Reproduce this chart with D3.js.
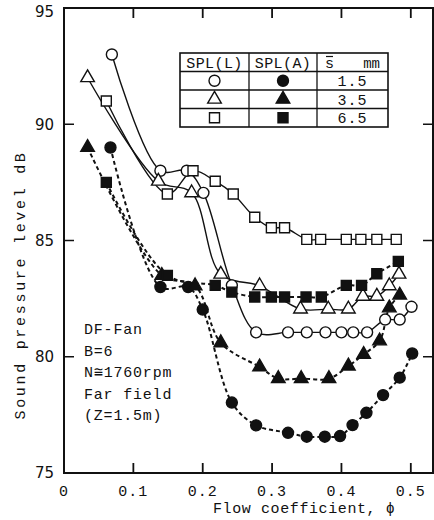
<!DOCTYPE html>
<html>
<head>
<meta charset="utf-8">
<script src="https://cdn.jsdelivr.net/npm/d3@7/dist/d3.min.js"></script>
<style>
  body { margin: 0; background: #fff; }
  text { fill: #111; }
</style>
</head>
<body>
<div id="chart-area"></div>
<script>
// data
const phiL15 = [0.069, 0.139, 0.177, 0.201, 0.242, 0.277, 0.323, 0.350, 0.377, 0.400, 0.417, 0.437, 0.463, 0.484, 0.501]
const splL15 = [93.0, 88.0, 88.0, 87.05, 83.07, 81.05, 81.05, 81.05, 81.05, 81.05, 81.05, 81.05, 81.6, 81.6, 82.15]

const phiL35 = [0.034, 0.136, 0.184, 0.226, 0.282, 0.341, 0.381, 0.410, 0.431, 0.451, 0.469, 0.483]
const splL35 = [92.0, 87.55, 87.05, 83.55, 83.05, 82.05, 82.05, 82.05, 82.6, 82.6, 83.05, 83.55]

const phiL65 = [0.061, 0.149, 0.186, 0.218, 0.244, 0.275, 0.299, 0.318, 0.350, 0.370, 0.407, 0.428, 0.451, 0.479]
const splL65 = [91.0, 87.0, 88.0, 87.55, 87.0, 86.0, 85.55, 85.55, 85.05, 85.05, 85.05, 85.05, 85.05, 85.05]

const phiA15 = [0.067, 0.139, 0.179, 0.200, 0.242, 0.277, 0.323, 0.350, 0.376, 0.398, 0.416, 0.436, 0.460, 0.484, 0.502]
const splA15 = [89.0, 83.0, 83.0, 82.03, 78.03, 77.05, 76.73, 76.56, 76.56, 76.59, 77.06, 77.59, 78.35, 79.1, 80.14]

const phiA35 = [0.034, 0.141, 0.189, 0.226, 0.282, 0.309, 0.342, 0.382, 0.410, 0.432, 0.455, 0.469, 0.484]
const splA35 = [89.0, 83.5, 83.05, 80.6, 79.56, 79.06, 79.06, 79.06, 79.6, 80.1, 80.68, 82.1, 82.65]

const phiA65 = [0.061, 0.149, 0.218, 0.242, 0.275, 0.299, 0.318, 0.349, 0.371, 0.407, 0.429, 0.451, 0.482]
const splA65 = [87.5, 83.5, 83.07, 82.78, 82.57, 82.57, 82.57, 82.57, 82.57, 83.07, 83.07, 83.57, 84.1]

const xTicks = [0.1, 0.2, 0.3, 0.4, 0.5]
const yTicks = [75, 80, 85, 90, 95]
const gapLabels = ["1.5", "3.5", "6.5"]
const noteLines = ["DF-Fan", "B=6", "N≅1760rpm", "Far field", "(Z=1.5m)"]

const series = [
  { phi: phiL15, spl: splL15, shape: "circle", filled: false, dashed: false },
  { phi: phiL35, spl: splL35, shape: "triangle", filled: false, dashed: false },
  { phi: phiL65, spl: splL65, shape: "square", filled: false, dashed: false },
  { phi: phiA15, spl: splA15, shape: "circle", filled: true, dashed: true },
  { phi: phiA35, spl: splA35, shape: "triangle", filled: true, dashed: true },
  { phi: phiA65, spl: splA65, shape: "square", filled: true, dashed: true }
]

const MARGIN = { LEFT: 64, RIGHT: 1, TOP: 8, BOTTOM: 47 }
const WIDTH = 434 - MARGIN.LEFT - MARGIN.RIGHT
const HEIGHT = 520 - MARGIN.TOP - MARGIN.BOTTOM
const MONO = "'Liberation Mono', 'DejaVu Sans Mono', monospace"

const svg = d3.select("#chart-area").append("svg")
  .attr("width", 434)
  .attr("height", 520)

const g = svg.append("g")
  .attr("transform", `translate(${MARGIN.LEFT}, ${MARGIN.TOP})`)

const x = d3.scaleLinear().domain([0, 0.532]).range([0, WIDTH])
const y = d3.scaleLinear().domain([75, 95]).range([HEIGHT, 0])

// frame
g.append("rect")
  .attr("width", WIDTH)
  .attr("height", HEIGHT)
  .attr("fill", "none")
  .attr("stroke", "#111")
  .attr("stroke-width", 2)

// inward ticks on all four sides
const tickLen = 10
g.selectAll(".xt-b").data(xTicks).join("line")
  .attr("x1", d => x(d)).attr("x2", d => x(d))
  .attr("y1", HEIGHT).attr("y2", HEIGHT - tickLen)
  .attr("stroke", "#111").attr("stroke-width", 1.8)
g.selectAll(".xt-t").data(xTicks).join("line")
  .attr("x1", d => x(d)).attr("x2", d => x(d))
  .attr("y1", 0).attr("y2", tickLen)
  .attr("stroke", "#111").attr("stroke-width", 1.8)
g.selectAll(".yt-l").data(yTicks.slice(1, -1)).join("line")
  .attr("x1", 0).attr("x2", tickLen)
  .attr("y1", d => y(d)).attr("y2", d => y(d))
  .attr("stroke", "#111").attr("stroke-width", 1.5)
g.selectAll(".yt-r").data(yTicks.slice(1, -1)).join("line")
  .attr("x1", WIDTH).attr("x2", WIDTH - tickLen)
  .attr("y1", d => y(d)).attr("y2", d => y(d))
  .attr("stroke", "#111").attr("stroke-width", 1.5)

// tick labels
g.selectAll(".xl").data([0].concat(xTicks)).join("text")
  .attr("x", d => x(d))
  .attr("y", HEIGHT + 23)
  .attr("text-anchor", "middle")
  .attr("font-family", MONO)
  .attr("font-size", 15)
  .attr("letter-spacing", 1)
  .text(d => d === 0 ? "0" : d3.format(".1f")(d))

g.selectAll(".yl").data(yTicks).join("text")
  .attr("x", -10)
  .attr("y", d => Math.max(y(d), 4))
  .attr("dy", "0.35em")
  .attr("text-anchor", "end")
  .attr("font-family", "'DejaVu Sans', sans-serif")
  .attr("font-size", 15)
  .text(d => d)

// axis titles
svg.append("text")
  .attr("transform", "translate(25, 285) rotate(-90)")
  .attr("text-anchor", "middle")
  .attr("font-family", MONO)
  .attr("font-size", 15)
  .attr("letter-spacing", 2.7)
  .text("Sound pressure level  dB")

svg.append("text")
  .attr("x", 213)
  .attr("y", 513)
  .attr("font-family", MONO)
  .attr("font-size", 15)
  .attr("letter-spacing", 0.6)
  .text("Flow coefficient, ϕ")

// curves
const line = d3.line()
  .x(d => x(d[0]))
  .y(d => y(d[1]))
  .curve(d3.curveCatmullRom.alpha(0.5))

series.forEach(s => {
  const pts = s.phi.map((p, i) => [p, s.spl[i]])
  g.append("path")
    .attr("d", line(pts))
    .attr("fill", "none")
    .attr("stroke", "#111")
    .attr("stroke-width", s.dashed ? 2 : 1.4)
    .attr("stroke-dasharray", s.dashed ? "4,3" : null)
})

// markers
const symSize = { circle: 95, triangle: 80, square: 100 }
const symType = { circle: d3.symbolCircle, triangle: d3.symbolTriangle, square: d3.symbolSquare }

function drawMarker(sel, shape, filled) {
  sel.append("path")
    .attr("d", d3.symbol().type(symType[shape]).size(symSize[shape])())
    .attr("fill", filled ? "#111" : "#fff")
    .attr("stroke", "#111")
    .attr("stroke-width", 1.4)
}

series.forEach(s => {
  s.phi.forEach((p, i) => {
    const m = g.append("g").attr("transform", `translate(${x(p)}, ${y(s.spl[i])})`)
    drawMarker(m, s.shape, s.filled)
  })
})

// legend table
const TB = { X: 180, Y: 53, W: 208, ROW: 18.5, C1: 249, C2: 317 }
const tbl = svg.append("g")
tbl.append("rect")
  .attr("x", TB.X).attr("y", TB.Y)
  .attr("width", TB.W).attr("height", TB.ROW * 4)
  .attr("fill", "#fff").attr("stroke", "#111").attr("stroke-width", 1.6)
d3.range(1, 4).forEach(r => {
  tbl.append("line")
    .attr("x1", TB.X).attr("x2", TB.X + TB.W)
    .attr("y1", TB.Y + r * TB.ROW).attr("y2", TB.Y + r * TB.ROW)
    .attr("stroke", "#111").attr("stroke-width", 1.3)
})
;[TB.C1, TB.C2].forEach(cx => {
  tbl.append("line")
    .attr("x1", cx).attr("x2", cx)
    .attr("y1", TB.Y).attr("y2", TB.Y + TB.ROW * 4)
    .attr("stroke", "#111").attr("stroke-width", 1.3)
})
const headers = [["SPL(L)", (TB.X + TB.C1) / 2], ["SPL(A)", (TB.C1 + TB.C2) / 2]]
headers.forEach(h => {
  tbl.append("text")
    .attr("x", h[1]).attr("y", TB.Y + 14.5)
    .attr("text-anchor", "middle")
    .attr("font-family", MONO).attr("font-size", 15).attr("letter-spacing", 0.4)
    .text(h[0])
})
tbl.append("text")
  .attr("x", TB.C2 + 8).attr("y", TB.Y + 14.5)
  .attr("font-family", MONO).attr("font-size", 15)
  .text("s")
tbl.append("line")
  .attr("x1", TB.C2 + 9).attr("x2", TB.C2 + 16)
  .attr("y1", TB.Y + 3.5).attr("y2", TB.Y + 3.5)
  .attr("stroke", "#111").attr("stroke-width", 1.2)
tbl.append("text")
  .attr("x", TB.X + TB.W - 8).attr("y", TB.Y + 14.5)
  .attr("text-anchor", "end")
  .attr("font-family", MONO).attr("font-size", 14)
  .text("mm")

const shapes = ["circle", "triangle", "square"]
shapes.forEach((shape, r) => {
  const cy = TB.Y + (r + 1.5) * TB.ROW
  drawMarker(tbl.append("g").attr("transform", `translate(${(TB.X + TB.C1) / 2}, ${cy})`), shape, false)
  drawMarker(tbl.append("g").attr("transform", `translate(${(TB.C1 + TB.C2) / 2}, ${cy})`), shape, true)
  tbl.append("text")
    .attr("x", (TB.C2 + TB.X + TB.W) / 2).attr("y", cy + 5.5)
    .attr("text-anchor", "middle")
    .attr("font-family", MONO).attr("font-size", 15).attr("letter-spacing", 1)
    .text(gapLabels[r])
})

// note text
svg.selectAll(".note").data(noteLines).join("text")
  .attr("x", 84)
  .attr("y", (d, i) => 334 + i * 21.5)
  .attr("font-family", MONO)
  .attr("font-size", 15)
  .attr("letter-spacing", 0.8)
  .text(d => d)
</script>
</body>
</html>
